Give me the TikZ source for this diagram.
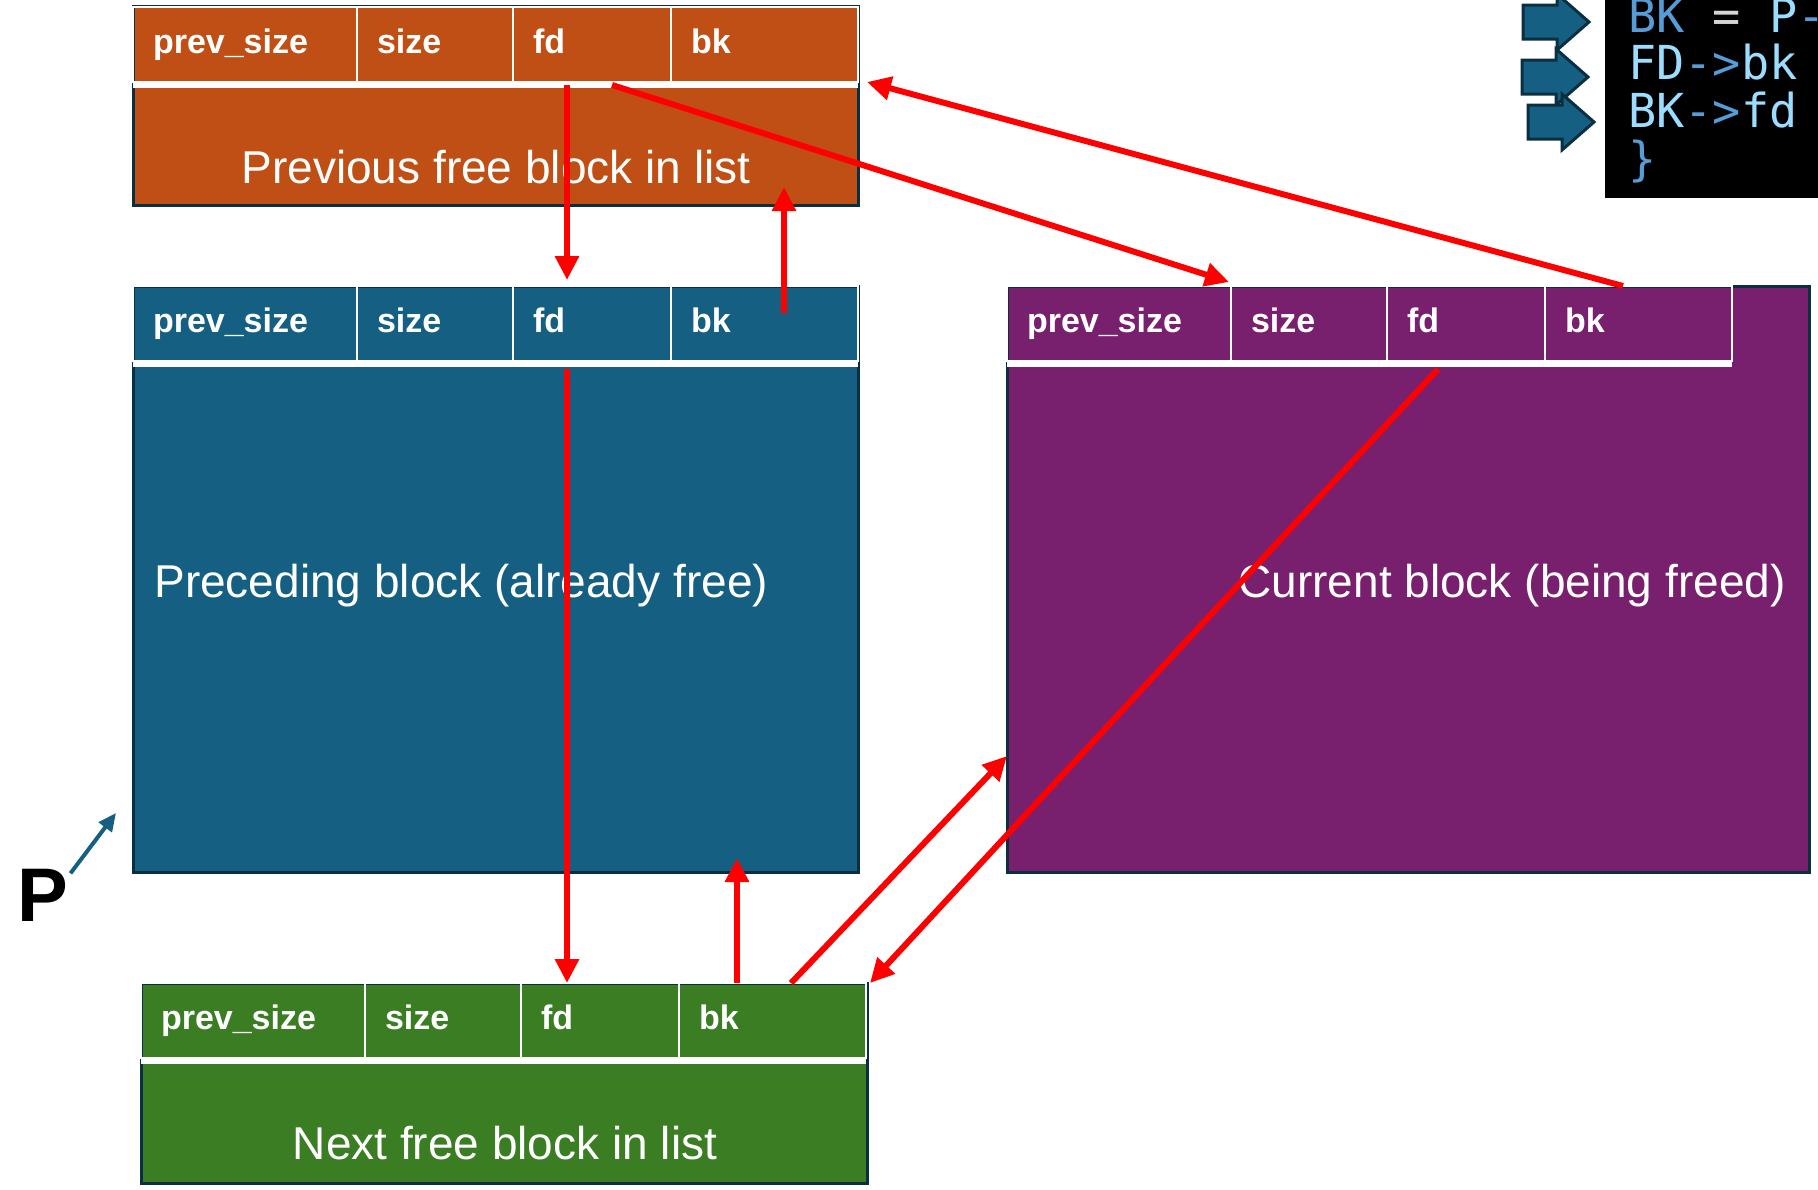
\documentclass[tikz,border=0pt]{standalone}
\usepackage{fontspec}
\setmainfont{Liberation Sans}
\setmonofont{DejaVu Sans Mono}
\usetikzlibrary{positioning, arrows.meta}

\definecolor{prevclr}{HTML}{C04F15}
\definecolor{precclr}{HTML}{156082}
\definecolor{currclr}{HTML}{78206E}
\definecolor{nextclr}{HTML}{3B7D23}
\definecolor{edgeclr}{HTML}{0A2F41}
\definecolor{kwclr}{HTML}{569CD6}
\definecolor{idclr}{HTML}{9CDCFE}
\definecolor{opclr}{HTML}{D4D4D4}

\tikzset{
  chunk/.style={draw=edgeclr, line width=1.5pt, anchor=north west, inner sep=0pt, outer sep=0pt},
  cell/.style={draw=white, line width=1pt, text=white, font=\bfseries\fontsize{17}{17}\selectfont,
    text width=#1, inner xsep=10pt, inner ysep=0pt, minimum height=37.5pt,
    text height=12pt, text depth=3.5pt, outer sep=0pt, anchor=north west},
  band/.style={white, line width=3pt},
  bodytxt/.style={text=white, font=\fontsize{23}{23}\selectfont, inner sep=0pt, anchor=base},
  ptr/.style={red, line width=3pt, -{Triangle[length=12pt, width=11.5pt]}},
  codeln/.style={font=\ttfamily\fontsize{23.4}{23.4}\selectfont, inner sep=0pt, anchor=base west},
  fatarrow/.style={fill=precclr, draw=edgeclr, line width=1.5pt, line join=miter},
}

\begin{document}
\begin{tikzpicture}[x=0.5pt, y=-0.5pt]
  \useasboundingbox (0,0) rectangle (1818,1189);
  \clip (0,0) rectangle (1818,1189);

  % ==================== Previous free block ====================
  \node[chunk, fill=prevclr, minimum width=362.5pt, minimum height=99.5pt] (prev) at (133,6) {};
  \node[cell=92pt] (prevps) at (133,7) {prev\_size};
  \node[cell=58pt, right=0pt of prevps] (prevsz) {size};
  \node[cell=59pt, right=0pt of prevsz] (prevfd) {fd};
  \node[cell=73.5pt, right=0pt of prevfd] (prevbk) {bk};
  \draw[band] ([yshift=-1.5pt]prevps.south west) -- ([yshift=-1.5pt]prevbk.south east);
  \node[bodytxt] (prevlbl) at (496,183) {Previous free block in list};

  % ==================== Preceding block ====================
  \node[chunk, fill=precclr, minimum width=362.5pt, minimum height=293pt] (prec) at (133,286) {};
  \node[cell=92pt] (precps) at (133,286) {prev\_size};
  \node[cell=58pt, right=0pt of precps] (precsz) {size};
  \node[cell=59pt, right=0pt of precsz] (precfd) {fd};
  \node[cell=73.5pt, right=0pt of precfd] (precbk) {bk};
  \draw[band] ([yshift=-1.5pt]precps.south west) -- ([yshift=-1.5pt]precbk.south east);
  \node[bodytxt, anchor=base west] (preclbl) at (154,597) {Preceding block (already free)};

  % ==================== Current block ====================
  \node[chunk, fill=currclr, minimum width=401pt, minimum height=293pt] (curr) at (1007,286) {};
  \node[cell=92pt] (currps) at (1007,286) {prev\_size};
  \node[cell=58pt, right=0pt of currps] (currsz) {size};
  \node[cell=59pt, right=0pt of currsz] (currfd) {fd};
  \node[cell=73.5pt, right=0pt of currfd] (currbk) {bk};
  \draw[band] ([yshift=-1.5pt]currps.south west) -- ([yshift=-1.5pt]currbk.south east);
  \node[bodytxt] (currlbl) at (1512,597) {Current block (being freed)};

  % ==================== Next free block ====================
  \node[chunk, fill=nextclr, minimum width=363pt, minimum height=100pt] (next) at (141,983) {};
  \node[cell=92pt] (nextps) at (141,983) {prev\_size};
  \node[cell=58pt, right=0pt of nextps] (nextsz) {size};
  \node[cell=59pt, right=0pt of nextsz] (nextfd) {fd};
  \node[cell=73.5pt, right=0pt of nextfd] (nextbk) {bk};
  \draw[band] ([yshift=-1.5pt]nextps.south west) -- ([yshift=-1.5pt]nextbk.south east);
  \node[bodytxt] (nextlbl) at (505,1159) {Next free block in list};

  % ==================== P pointer ====================
  \node[font=\bfseries\fontsize{38}{38}\selectfont, inner sep=0pt, anchor=base west] (plbl) at (17,921) {P};
  \coordinate (ptip) at (116,813);
  \draw[precclr, line width=2pt, -{Triangle[length=9pt, width=8pt]}] ([xshift=1pt,yshift=-2.5pt]plbl.north east) -- (ptip);

  % ==================== code snippet ====================
  \node[fill=black, anchor=north west, minimum width=110pt, minimum height=99pt, inner sep=0pt] (codebox) at (1605,0) {};
  \node[codeln] (ln1) at (1628,32) {\textcolor{kwclr}{BK}\ \textcolor{opclr}{=}\ \textcolor{idclr}{P}\textcolor{kwclr}{-}};
  \node[codeln] (ln2) at (1628,79) {\textcolor{idclr}{FD}\textcolor{kwclr}{->}\textcolor{idclr}{bk}};
  \node[codeln] (ln3) at (1628,127) {\textcolor{idclr}{BK}\textcolor{kwclr}{->}\textcolor{idclr}{fd}};
  \node[codeln] (ln4) at (1628,175) {\textcolor{kwclr}{\}}};
  \foreach \ax/\ay in {1523/22, 1522/77, 1528/122}
    \draw[fatarrow] (\ax,\ay-17) -- ++(34,0) -- ++(0,-11) -- ++(32,28) -- ++(-32,28) -- ++(0,-11) -- ++(-34,0) -- cycle;

  % ==================== fd / bk links ====================
  \draw[ptr, shorten >=3pt] ([xshift=-12.5pt,yshift=-1.5pt]prevfd.south) -- ([xshift=-12.5pt]precfd.north);
  \draw[ptr] ([xshift=9.75pt,yshift=5.25pt]precbk.center) -- ([xshift=9.75pt,yshift=-52.5pt]prevbk.south);
  \draw[ptr] ([xshift=10pt,yshift=-1.5pt]prevfd.south) -- ([xshift=-1pt,yshift=2pt]currps.north east);
  \draw[ptr] ([xshift=-7.75pt]currbk.north) -- ([xshift=4.5pt]prevbk.south east);
  \draw[ptr] ([xshift=-12.5pt,yshift=-4pt]precfd.south) -- ([xshift=-16.5pt]nextfd.north);
  \draw[ptr] ([xshift=-17.75pt]nextbk.north) -- ([xshift=-60.5pt,yshift=7pt]prec.south east);
  \draw[ptr] ([xshift=9.25pt]nextbk.north) -- ([yshift=58pt]curr.south west);
  \draw[ptr] ([xshift=-14pt,yshift=-4pt]currfd.south) -- ([xshift=2pt]nextbk.north east);
\end{tikzpicture}
\end{document}
